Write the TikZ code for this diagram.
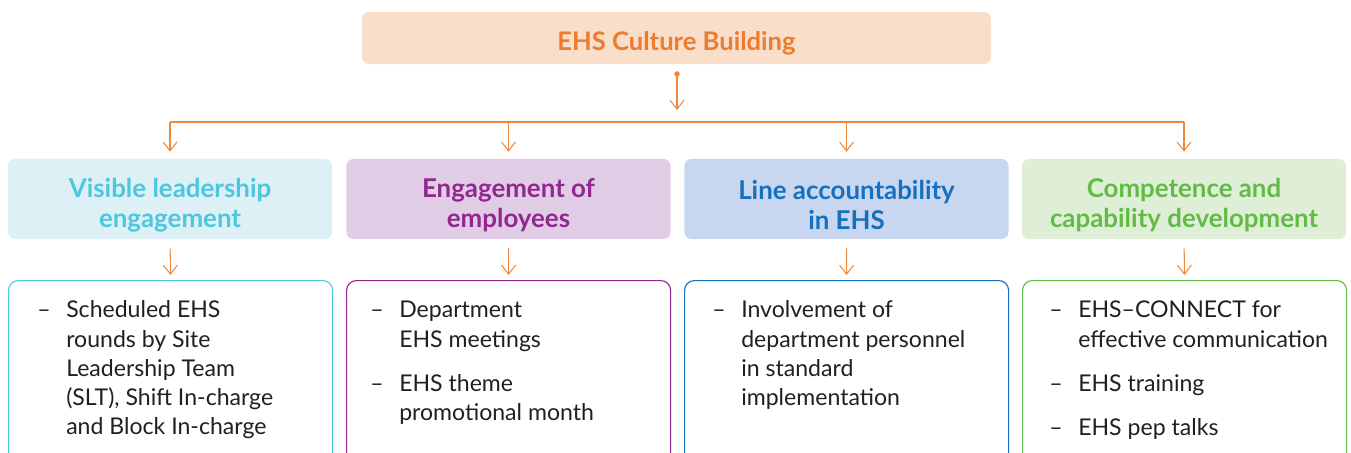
\documentclass[tikz,border=0pt]{standalone}
\usepackage{fontspec}
\setmainfont{Lato}
\usepackage{xcolor}
\usetikzlibrary{arrows.meta,positioning}

\definecolor{ehsorange}{HTML}{EE7B30}
\definecolor{ehsarrow}{HTML}{F0873A}
\definecolor{topfill}{HTML}{F9DFC9}
\definecolor{cyanfill}{HTML}{DCF0F5}
\definecolor{cyantext}{HTML}{4DC6E0}
\definecolor{purpfill}{HTML}{E1CCE5}
\definecolor{purptext}{HTML}{92278F}
\definecolor{bluefill}{HTML}{C8D6EF}
\definecolor{bluetext}{HTML}{1570BF}
\definecolor{greenfill}{HTML}{DFEED6}
\definecolor{greentext}{HTML}{62BB46}
\definecolor{bodytext}{HTML}{231F20}

\newcommand{\headstrut}{\rule{0pt}{22pt}}

\begin{document}
\begin{tikzpicture}[x=0.025cm, y=-0.025cm,
  topbox/.style={fill=topfill, rounded corners=5pt, minimum width=15.725cm,
    minimum height=1.3cm, text=ehsorange, font=\fontsize{18.2}{22}\selectfont\bfseries,
    execute at begin node=\rule{0pt}{20.5pt}},
  headbox/.style={rounded corners=5pt, minimum width=8.1cm, minimum height=2cm,
    align=center, font=\fontsize{18.4}{21.3}\selectfont\bfseries},
  listbox/.style={draw, rounded corners=7pt, line width=0.8pt, minimum width=8.1cm,
    minimum height=4.6cm, anchor=north west},
  itemtext/.style={anchor=north west, inner sep=0pt, text=bodytext,
    font=\fontsize{16.4}{20.8}\selectfont},
  arr/.style={draw=ehsarrow, line width=0.75pt, -{Straight Barb[length=6.4pt, width=10pt]}},
  bus/.style={draw=ehsarrow, line width=0.9pt},
]
  \clip (0,0) rectangle (1351,453);

  % top box
  \node[topbox] (top) at (676.5,38) {EHS Culture Building};
  \coordinate (dot) at (677,74);
  \fill[ehsarrow] (dot) circle[radius=0.07cm];
  \coordinate (mid) at (677,122);
  \draw[arr, shorten >=0.3cm] (dot) -- (mid);

  % the four pillars
  \node[headbox, fill=cyanfill, text=cyantext] (h1) at (170,199)
    {\headstrut Visible leadership\\engagement};
  \node[headbox, fill=purpfill, text=purptext] (h2) at (508.5,199)
    {\headstrut Engagement of\\employees};
  \node[headbox, fill=bluefill, text=bluetext] (h3) at (846.5,199)
    {\headstrut Line accountability\\in EHS};
  \node[headbox, fill=greenfill, text=greentext] (h4) at (1184,199)
    {\headstrut Competence and\\capability development};

  \coordinate (b1) at (h1.north |- mid);
  \coordinate (b2) at (h2.north |- mid);
  \coordinate (b3) at (h3.north |- mid);
  \coordinate (b4) at (h4.north |- mid);
  \draw[bus] (b1) -- (b4);
  \draw[arr, shorten >=0.175cm] (b1) -- (h1.north);
  \draw[arr, shorten >=0.175cm] (b2) -- (h2.north);
  \draw[arr, shorten >=0.175cm] (b3) -- (h3.north);
  \draw[arr, shorten >=0.175cm] (b4) -- (h4.north);

  % list boxes
  \node[listbox, draw=cyantext]  (c1) at (8,280) {};
  \node[listbox, draw=purptext]  (c2) at (346,280) {};
  \node[listbox, draw=bluetext]  (c3) at (684,280) {};
  \node[listbox, draw=greentext] (c4) at (1022,280) {};

  \draw[arr, shorten <=0.225cm, shorten >=0.125cm] (h1.south) -- (c1.north);
  \draw[arr, shorten <=0.225cm, shorten >=0.125cm] (h2.south) -- (c2.north);
  \draw[arr, shorten <=0.225cm, shorten >=0.125cm] (h3.south) -- (c3.north);
  \draw[arr, shorten <=0.225cm, shorten >=0.125cm] (h4.south) -- (c4.north);

  \node[itemtext] (t1) at (37,297) {\begin{tabular}{@{}p{0.725cm}@{}l@{}}
    -- & Scheduled EHS\\ & rounds by Site\\ & Leadership Team\\
       & (SLT), Shift In-charge\\ & and Block In-charge
  \end{tabular}};
  \node[itemtext] (t2) at (370,297) {\begin{tabular}{@{}p{0.725cm}@{}l@{}}
    -- & Department\\ & EHS meetings\\[10.5pt]
    -- & EHS theme\\ & promotional month
  \end{tabular}};
  \node[itemtext] (t3) at (712,297) {\begin{tabular}{@{}p{0.725cm}@{}l@{}}
    -- & Involvement of\\ & department personnel\\ & in standard\\ & implementation
  \end{tabular}};
  \node[itemtext] (t4) at (1049,297) {\begin{tabular}{@{}p{0.725cm}@{}l@{}}
    -- & EHS--CONNECT for\\ & effective communication\\[10.5pt]
    -- & EHS training\\[10.5pt]
    -- & EHS pep talks
  \end{tabular}};
\end{tikzpicture}
\end{document}
